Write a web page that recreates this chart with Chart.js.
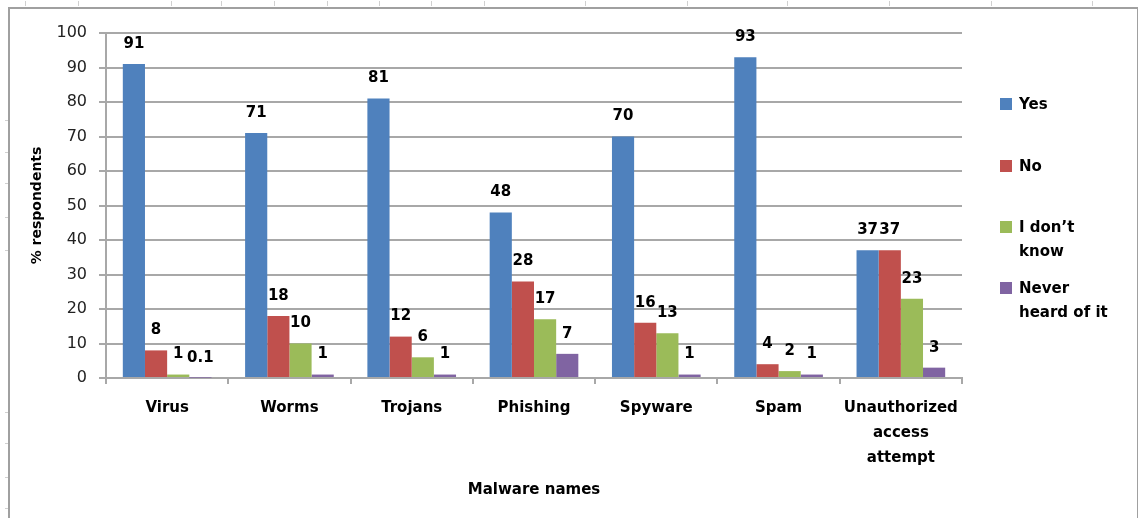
<!DOCTYPE html>
<html>
<head>
<meta charset="utf-8">
<script src="https://cdn.jsdelivr.net/npm/chart.js@4.4.1/dist/chart.umd.min.js"></script>
<style>
  html, body { margin:0; padding:0; background:#fff; }
  #wrap { position:relative; width:1138px; height:518px; overflow:hidden; }
  #frame { position:absolute; left:8px; top:7px; width:1127px; height:530px; border:2px solid #a0a0a0; }
  #chart { position:absolute; left:0; top:0; }
  .lg { position:absolute; left:1000px; font:bold 15px "DejaVu Sans"; color:#000; line-height:24px; }
  .lg i { position:absolute; left:0; top:6px; width:12px; height:12px; }
  .lg span { display:block; margin-left:19px; }
</style>
</head>
<body>
<div id="wrap">
  <div id="frame"></div>
  <canvas id="chart" width="1138" height="518"></canvas>
  <div id="legend"></div>
</div>
<script>
// ── data ──
const categorias = ['Virus','Worms','Trojans','Phishing','Spyware','Spam',['Unauthorized','access','attempt']];
const series     = ['Yes','No',"I don\u2019t know",'Never heard of it'];
const serieLineas = [['Yes'],['No'],["I don\u2019t",'know'],['Never','heard of it']];
const yes      = [91, 71, 81, 48, 70, 93, 37];
const no       = [8, 18, 12, 28, 16, 4, 37];
const noSabe   = [1, 10, 6, 17, 13, 2, 23];
const nunca    = [0.1, 1, 1, 7, 1, 1, 3];
const yTicks   = [0,10,20,30,40,50,60,70,80,90,100];
const colores  = ['#4F81BD','#C0504D','#9BBB59','#8064A2'];

// marcas de la hoja (decoración)
const marcasTop  = [25,78,171,221,274,327,379,431,484,585,687,787,889,991,1092];
const marcasLeft = [120,152,183,217,250,412,443,477,508];

const gris = '#a8a8a8';

const etiquetas = {
  id:'etiquetas',
  afterDatasetsDraw(chart) {
    const ctx = chart.ctx;
    ctx.save();
    ctx.font = 'bold 15px "DejaVu Sans"';
    ctx.fillStyle = '#000';
    ctx.textAlign = 'center';
    ctx.textBaseline = 'middle';
    chart.data.datasets.forEach((ds, i) => {
      chart.getDatasetMeta(i).data.forEach((bar, j) => {
        ctx.fillText(String(ds.data[j]), bar.x, bar.y - 20);
      });
    });
    ctx.restore();
  }
};

const hoja = {
  id:'hoja',
  beforeDraw(chart) {
    const ctx = chart.ctx;
    ctx.save();
    ctx.strokeStyle = '#d0d0d0';
    ctx.lineWidth = 1;
    marcasTop.forEach(x => { ctx.beginPath(); ctx.moveTo(x+0.5, 1); ctx.lineTo(x+0.5, 6); ctx.stroke(); });
    marcasLeft.forEach(y => { ctx.beginPath(); ctx.moveTo(5, y+0.5); ctx.lineTo(8, y+0.5); ctx.stroke(); });
    ctx.restore();
  }
};

new Chart(document.getElementById('chart'), {
  type:'bar',
  data:{
    labels:categorias,
    datasets:[yes, no, noSabe, nunca].map((d,i) => ({
      label:series[i], data:d, backgroundColor:colores[i], borderWidth:0,
      categoryPercentage:0.725, barPercentage:1
    }))
  },
  options:{
    responsive:false,
    animation:false,
    devicePixelRatio:1,
    layout:{ padding:{ left:0, right:176, top:33, bottom:0 } },
    plugins:{ legend:{ display:false }, tooltip:{ enabled:false } },
    scales:{
      x:{
        afterFit(s){ s.height = 140; },
        grid:{ drawOnChartArea:false, drawTicks:true, tickLength:6, color:gris, lineWidth:2 },
        border:{ display:true, color:gris, width:2 },
        ticks:{ font:{ family:'DejaVu Sans', size:15, weight:'bold', lineHeight:1.667 }, color:'#000',
                maxRotation:0, minRotation:0, autoSkip:false, padding:12 },
        title:{ display:true, text:'Malware names', color:'#000',
                font:{ family:'DejaVu Sans', size:15, weight:'bold', lineHeight:1.2 }, padding:{ top:0, bottom:19 } }
      },
      y:{
        min:0, max:100,
        afterFit(s){ s.width = 106; },
        afterBuildTicks(s){ s.ticks = yTicks.map(v => ({ value:v })); },
        grid:{ color:gris, lineWidth:2, tickLength:7 },
        border:{ display:true, color:gris, width:2 },
        ticks:{ font:{ family:'DejaVu Sans', size:16 }, color:'#222', padding:12 },
        title:{ display:true, text:'% respondents', color:'#000',
                font:{ family:'DejaVu Sans', size:14, weight:'bold', lineHeight:1.2 }, padding:{ top:29, bottom:0 } }
      }
    }
  },
  plugins:[hoja, etiquetas]
});

// leyenda
const tops = [92, 154, 215, 276];
document.getElementById('legend').innerHTML = serieLineas.map((l,i) =>
  `<div class="lg" style="top:${tops[i]}px;"><i style="background:${colores[i]};"></i><span>${l.join('<br>')}</span></div>`
).join('');
</script>
</body>
</html>
